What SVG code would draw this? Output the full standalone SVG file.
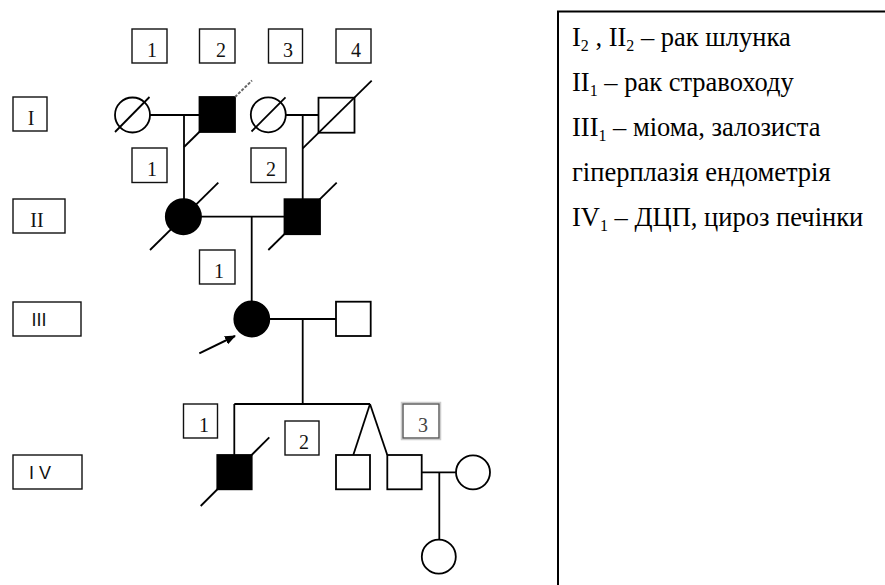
<svg xmlns="http://www.w3.org/2000/svg" width="885" height="585" viewBox="0 0 885 585">
<defs>
<style>
.lbl{fill:#fff;stroke:#111;stroke-width:1.4}
.num{font-family:"Liberation Serif","Times New Roman",serif;font-size:20px;fill:#111;text-anchor:middle}
.gen{font-family:"Liberation Sans",Arial,sans-serif;font-size:18px;fill:#111;text-anchor:middle}
.p{stroke:#000;stroke-width:1.8}
.open{fill:#fff}
.aff{fill:#000}
.ln{stroke:#000;stroke-width:1.8;fill:none}
.leg{font-family:"Liberation Serif","Times New Roman",serif;font-size:26.5px;fill:#000}
.sub{font-size:16px}
</style>
<marker id="ah" markerWidth="11" markerHeight="9" refX="10" refY="4.5" orient="auto" markerUnits="userSpaceOnUse">
<path d="M0,0 L11,4.5 L0,9 Z" fill="#000"/>
</marker>
</defs>
<rect width="885" height="585" fill="#fff"/>

<g id="legend">
<rect x="558" y="11.5" width="340" height="590" fill="#fff" stroke="#000" stroke-width="2"/>
<text class="leg" x="572" y="46">I<tspan class="sub" dy="5">2</tspan><tspan dy="-5"> , II</tspan><tspan class="sub" dy="5">2</tspan><tspan dy="-5"> – рак шлунка</tspan></text>
<text class="leg" x="572" y="91">II<tspan class="sub" dy="5">1</tspan><tspan dy="-5"> – рак стравоходу</tspan></text>
<text class="leg" x="572" y="136">III<tspan class="sub" dy="5">1</tspan><tspan dy="-5"> – міома, залозиста</tspan></text>
<text class="leg" x="572" y="181">гіперплазія ендометрія</text>
<text class="leg" x="572" y="226">IV<tspan class="sub" dy="5">1</tspan><tspan dy="-5"> – ДЦП, цироз печінки</tspan></text>
</g>

<g id="gen-labels">
<g id="gen-I"><rect class="lbl" x="13" y="97" width="34" height="34"/><text class="num" x="31" y="125">I</text></g>
<g id="gen-II"><rect class="lbl" x="13" y="199" width="52" height="34"/><text class="num" x="37" y="227">II</text></g>
<g id="gen-III"><rect class="lbl" x="13" y="302" width="68" height="34"/><text class="gen" x="39" y="326">III</text></g>
<g id="gen-IV"><rect class="lbl" x="13" y="455" width="69" height="34"/><text class="gen" x="40" y="479">I V</text></g>
</g>

<g id="numbers">
<g id="n-I1"><rect class="lbl" x="132" y="29" width="35" height="34"/><text class="num" x="152" y="57">1</text></g>
<g id="n-I2"><rect class="lbl" x="199.5" y="29" width="35.5" height="34"/><text class="num" x="221" y="57">2</text></g>
<g id="n-I3"><rect class="lbl" x="268.5" y="29" width="34" height="34"/><text class="num" x="288" y="57">3</text></g>
<g id="n-I4"><rect class="lbl" x="336" y="29" width="35" height="34"/><text class="num" x="356" y="57">4</text></g>
<g id="n-II1"><rect class="lbl" x="132" y="148" width="35" height="34.5"/><text class="num" x="152" y="176">1</text></g>
<g id="n-II2"><rect class="lbl" x="251" y="148" width="35" height="34.5"/><text class="num" x="271" y="176">2</text></g>
<g id="n-III1"><rect class="lbl" x="199.5" y="250" width="35.5" height="34"/><text class="num" x="219" y="278">1</text></g>
<g id="n-IV1"><rect class="lbl" x="183.5" y="404" width="34" height="34"/><text class="num" x="204" y="432">1</text></g>
<g id="n-IV2"><rect class="lbl" x="285" y="421" width="34" height="34"/><text class="num" x="304" y="449">2</text></g>
<g id="n-IV3"><rect x="401.5" y="402.5" width="39" height="37" fill="none" stroke="#ccc" stroke-width="1.5"/><rect class="lbl" x="403" y="404" width="36" height="34" style="stroke:#555"/><text class="num" x="423" y="432" style="fill:#444">3</text></g>
</g>

<g id="connectors">
<line class="ln" x1="150" y1="115" x2="199.5" y2="115"/>
<line class="ln" x1="184" y1="115" x2="184" y2="199.5"/>
<line class="ln" x1="285.7" y1="115" x2="318.5" y2="115"/>
<line class="ln" x1="302.7" y1="115" x2="302.7" y2="199.5"/>
<line class="ln" x1="201" y1="216.7" x2="284.5" y2="216.7"/>
<line class="ln" x1="251.7" y1="216.7" x2="251.7" y2="301.5"/>
<line class="ln" x1="269.3" y1="319" x2="336" y2="319"/>
<line class="ln" x1="302.7" y1="319" x2="302.7" y2="404"/>
<line class="ln" x1="234.3" y1="404" x2="370" y2="404"/>
<line class="ln" x1="234.3" y1="404" x2="234.3" y2="455"/>
<line class="ln" x1="370" y1="404" x2="353.3" y2="455"/>
<line class="ln" x1="370" y1="404" x2="387.3" y2="455"/>
<line class="ln" x1="421.7" y1="472.3" x2="456" y2="472.3"/>
<line class="ln" x1="439.3" y1="472.3" x2="439.3" y2="539.7"/>
<line x1="199.3" y1="353.3" x2="235" y2="336" stroke="#000" stroke-width="2" marker-end="url(#ah)"/>
</g>

<g id="I1"><circle class="p open" cx="132.5" cy="115" r="17.5"/><line class="ln" x1="115" y1="132" x2="149.5" y2="97"/></g>
<g id="I2"><rect class="p aff" x="199.5" y="97" width="35.5" height="35"/><line class="ln" x1="184" y1="147" x2="235" y2="97"/><line x1="235" y1="97" x2="252" y2="80.5" stroke="#666" stroke-width="2" stroke-dasharray="3 1.5"/></g>
<g id="I3"><circle class="p open" cx="268.3" cy="114.8" r="17.5"/><line class="ln" x1="251.5" y1="131.5" x2="285.5" y2="97.3"/></g>
<g id="I4"><rect class="p open" x="318.5" y="97.7" width="36" height="35"/><line class="ln" x1="302.7" y1="148.3" x2="371.7" y2="80.7"/></g>
<g id="II1"><circle class="p aff" cx="183.4" cy="216.7" r="17.6"/><line class="ln" x1="150" y1="250" x2="218.3" y2="182.7"/></g>
<g id="II2"><rect class="p aff" x="284.5" y="199.2" width="35.5" height="35"/><line class="ln" x1="268.3" y1="250" x2="336.7" y2="182.7"/></g>
<g id="III1"><circle class="p aff" cx="251.8" cy="319" r="17.5"/></g>
<g id="III2"><rect class="p open" x="336" y="301.7" width="34.7" height="34.3"/></g>
<g id="IV1"><rect class="p aff" x="217.3" y="455" width="34.4" height="34.3"/><line class="ln" x1="200.7" y1="506" x2="269.3" y2="437.3"/></g>
<g id="IV2"><rect class="p open" x="336" y="455" width="34" height="34.3"/></g>
<g id="IV3"><rect class="p open" x="387.3" y="455" width="34.4" height="34.3"/></g>
<g id="IV4"><circle class="p open" cx="473" cy="472.3" r="17"/></g>
<g id="IV5"><circle class="p open" cx="438.8" cy="556.7" r="17"/></g>
</svg>
